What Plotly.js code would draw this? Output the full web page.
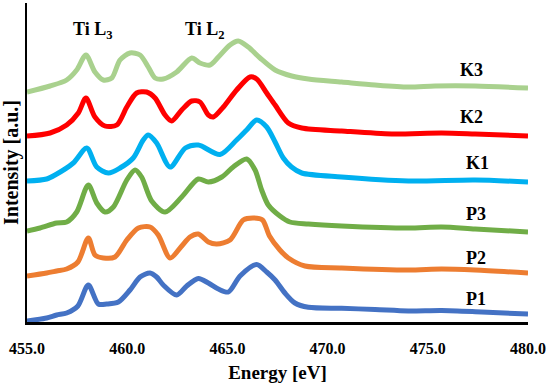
<!DOCTYPE html>
<html>
<head>
<meta charset="utf-8">
<script src="https://cdn.plot.ly/plotly-3.0.1.min.js"></script>
<style>html,body{margin:0;padding:0;background:#fff;}#chart{width:550px;height:392px;}</style>
</head>
<body>
<div id="chart"></div>
<script>
// Energy (eV) and intensity (a.u.)
const p1E = [455, 455.98, 456.48, 456.98, 457.54, 458.06, 458.56, 458.98, 459.56, 460.14, 460.64, 461.14, 461.47, 461.8, 462.47, 462.97, 463.55, 464.05, 464.55, 465.05, 465.63, 466.46, 466.96, 467.38, 467.87, 468.37, 469.04, 470.7, 472.37, 474.03, 475.69, 477.69, 480];
const p1I = [0.01, 0.04, 0.07, 0.09, 0.16, 0.37, 0.18, 0.18, 0.20, 0.32, 0.45, 0.49, 0.45, 0.37, 0.27, 0.36, 0.435, 0.39, 0.33, 0.30, 0.46, 0.575, 0.50, 0.42, 0.29, 0.19, 0.147, 0.137, 0.125, 0.11, 0.115, 0.10, 0.08];

const p2E = [455, 455.98, 456.48, 456.98, 457.54, 458.06, 458.39, 458.81, 459.39, 459.98, 460.56, 461.14, 461.55, 462.14, 462.68, 463.13, 463.55, 464.05, 464.47, 465.13, 465.79, 466.3, 466.75, 467.1, 467.62, 468.04, 468.87, 470.7, 474.03, 475.69, 477.36, 480];
const p2I = [0.46, 0.49, 0.51, 0.53, 0.60, 0.84, 0.67, 0.64, 0.65, 0.82, 0.94, 0.95, 0.87, 0.64, 0.75, 0.85, 0.88, 0.80, 0.78, 0.82, 1.02, 1.04, 1.02, 0.86, 0.72, 0.64, 0.56, 0.54, 0.52, 0.53, 0.52, 0.49];

const p3E = [455, 455.65, 456.48, 456.98, 457.48, 458.06, 458.48, 458.89, 459.31, 459.98, 460.39, 460.72, 461.22, 461.89, 462.72, 463.55, 464.05, 464.72, 465.29, 465.96, 466.38, 466.71, 467.04, 467.62, 468.12, 469.04, 470.7, 474.03, 475.69, 477.36, 480];
const p3I = [0.91, 0.94, 0.99, 1.00, 1.10, 1.37, 1.19, 1.10, 1.15, 1.42, 1.52, 1.45, 1.21, 1.10, 1.25, 1.43, 1.40, 1.45, 1.55, 1.63, 1.52, 1.32, 1.17, 1.06, 1.00, 0.98, 0.96, 0.94, 0.95, 0.93, 0.90];

const k1E = [455, 455.98, 456.4, 457.31, 457.98, 458.48, 459.06, 459.64, 460.3, 460.8, 461.05, 461.47, 462.14, 462.9, 463.55, 464.63, 465.46, 465.96, 466.46, 466.96, 467.38, 467.79, 468.2, 468.71, 470.7, 474.03, 477.36, 480];
const k1I = [1.41, 1.43, 1.47, 1.59, 1.74, 1.55, 1.49, 1.54, 1.64, 1.82, 1.87, 1.79, 1.55, 1.74, 1.77, 1.675, 1.82, 1.92, 2.02, 1.95, 1.80, 1.64, 1.55, 1.49, 1.45, 1.41, 1.42, 1.40];

const k2E = [455, 456.15, 456.98, 457.56, 457.94, 458.39, 458.89, 459.48, 459.98, 460.47, 460.97, 461.39, 461.89, 462.22, 462.72, 463.22, 463.63, 464.05, 464.3, 464.8, 465.46, 466.13, 466.46, 466.96, 467.38, 468.04, 468.71, 470.7, 473.2, 475.69, 477.36, 480];
const k2I = [1.86, 1.89, 1.97, 2.09, 2.24, 2.05, 1.96, 1.97, 2.15, 2.29, 2.30, 2.24, 2.07, 2.01, 2.12, 2.21, 2.20, 2.07, 2.05, 2.15, 2.32, 2.45, 2.43, 2.29, 2.17, 1.99, 1.94, 1.91, 1.88, 1.89, 1.88, 1.86];

const k3E = [455, 456.15, 456.98, 457.48, 457.94, 458.39, 458.81, 459.23, 459.64, 460.14, 460.64, 461.05, 461.39, 461.8, 462.47, 463.22, 463.63, 464.13, 464.55, 465.13, 465.54, 466.04, 466.63, 467.38, 468.21, 469.04, 470.7, 472.37, 474.03, 475.36, 477.36, 480];
const k3I = [2.30, 2.36, 2.42, 2.52, 2.67, 2.50, 2.42, 2.44, 2.62, 2.69, 2.67, 2.55, 2.44, 2.43, 2.50, 2.64, 2.59, 2.57, 2.65, 2.77, 2.81, 2.75, 2.64, 2.52, 2.46, 2.43, 2.40, 2.37, 2.35, 2.36, 2.36, 2.34];

const seriesNames = ['P1', 'P2', 'P3', 'K1', 'K2', 'K3'];
const seriesColors = ['#4472C4', '#ED7D31', '#70AD47', '#00B0F0', '#FF0000', '#A9D18E'];
const labelE = [477.4, 477.4, 477.4, 477.5, 477.2, 477.2];
const labelI = [0.235, 0.64, 1.08, 1.59, 2.05, 2.52];
const peakLabels = ['Ti L<sub>3</sub>', 'Ti L<sub>2</sub>'];
const peakE = [458.25, 463.85];
const peakI = [2.92, 2.92];
const xTicks = [455, 460, 465, 470, 475, 480];

const xs = [p1E, p2E, p3E, k1E, k2E, k3E];
const ys = [p1I, p2I, p3I, k1I, k2I, k3I];

const FONT = 'Liberation Serif, Times New Roman, serif';

const traces = seriesNames.map((n, i) => ({
  x: xs[i], y: ys[i], name: n, type: 'scatter', mode: 'lines',
  line: {color: seriesColors[i], width: 5, shape: 'spline', smoothing: 0.8},
  hoverinfo: 'skip'
}));

const annotations = seriesNames.map((n, i) => ({
  x: labelE[i], y: labelI[i], xref: 'x', yref: 'y', text: '<b>' + n + '</b>',
  showarrow: false, font: {family: FONT, size: 18, color: '#000'}
})).concat(peakLabels.map((t, i) => ({
  x: peakE[i], y: peakI[i], xref: 'x', yref: 'y', text: '<b>' + t + '</b>',
  showarrow: false, font: {family: FONT, size: 18, color: '#000'}
})));

const layout = {
  width: 550, height: 392,
  margin: {l: 27, r: 22, t: 3, b: 70, pad: 0},
  paper_bgcolor: '#fff', plot_bgcolor: '#fff',
  showlegend: false,
  font: {family: FONT, color: '#000'},
  xaxis: {
    range: [455, 480], tickvals: xTicks, tickformat: '.1f',
    showgrid: false, zeroline: false, showline: true, linecolor: '#000', linewidth: 2.5,
    ticks: '', ticklabelstandoff: 10,
    tickfont: {family: FONT, size: 16, color: '#000', weight: 'bold'},
    title: {text: '<b>Energy [eV]</b>', font: {family: FONT, size: 19, color: '#000'}, standoff: 10},
    automargin: false, fixedrange: true
  },
  yaxis: {
    range: [0, 3.19], showticklabels: false, ticks: '',
    showgrid: false, zeroline: false, showline: true, linecolor: '#000', linewidth: 2.5,
    title: {text: '<b>Intensity [a.u.]</b>', font: {family: FONT, size: 20, color: '#000'}, standoff: 2},
    automargin: false, fixedrange: true
  },
  annotations: annotations
};

Plotly.newPlot('chart', traces, layout, {staticPlot: true, displayModeBar: false});
</script>
</body>
</html>
